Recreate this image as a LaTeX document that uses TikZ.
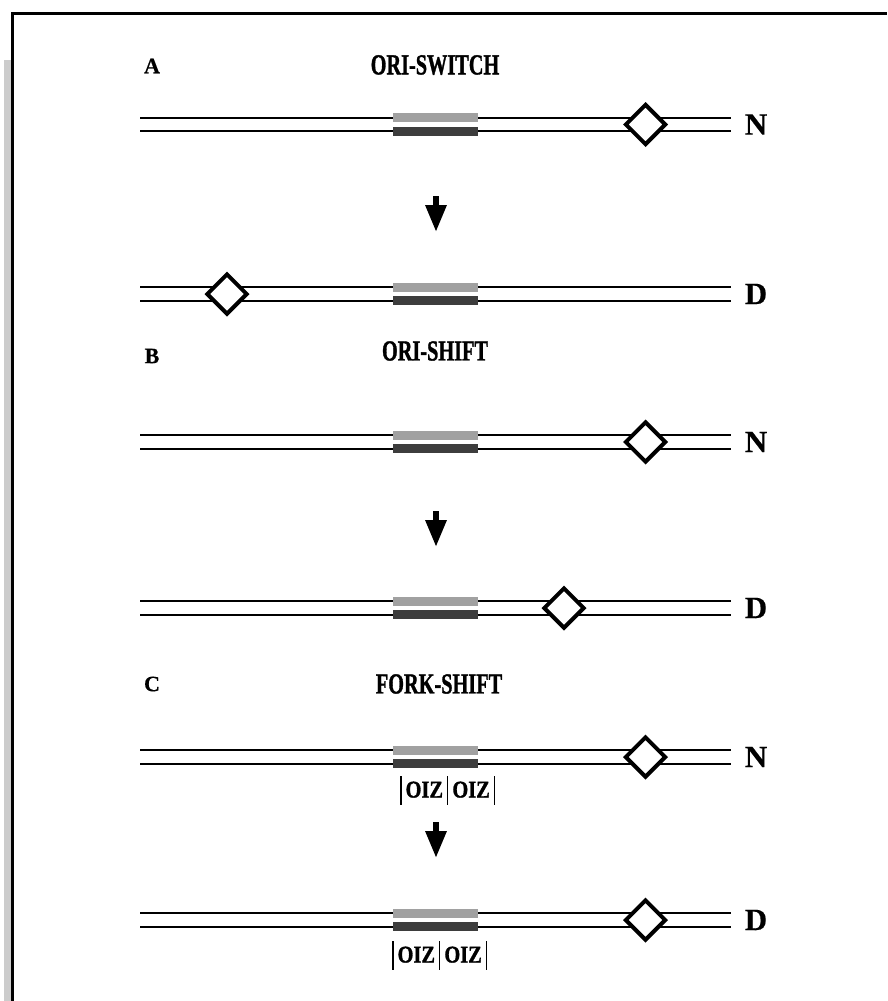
\documentclass[tikz,border=0pt]{standalone}
\usepackage{fontspec}
\usepackage{graphicx}
\setmainfont{Liberation Serif}[FakeBold=0.4]
\newfontfamily\heavyfont{Liberation Serif}[FakeBold=1.4]
\usetikzlibrary{arrows.meta,shapes.geometric}

% one double-stranded stretch: name, centre line y, origin x, end label
\newcommand\dnarow[4]{%
  \coordinate (#1-L) at (140,#2);
  \coordinate (#1-R) at (731,#2);
  \draw[strand] ([yshift=6.75pt]#1-L) -- ([yshift=6.75pt]#1-R);
  \draw[strand] ([yshift=-6.75pt]#1-L) -- ([yshift=-6.75pt]#1-R);
  \node[lightbar] (#1-top) at (435.5,#2-6.75) {};
  \node[darkbar] (#1-bot) at (435.5,#2+6.75) {};
  \node[origin] (#1-ori) at (#3,#2) {};
  \node[endlabel] (#1-lab) at (756,#2) {#4};
}
\newcommand\narrow[1]{\scalebox{0.7}[1]{#1}}
\newcommand\oizsep{\rule[-7pt]{1.4pt}{29pt}}
\newcommand\oiztext{\oizsep\hspace{4pt}\scalebox{0.85}[1]{OIZ}\hspace{4pt}\oizsep\hspace{4pt}\scalebox{0.85}[1]{OIZ}\hspace{4pt}\oizsep}

\begin{document}
\begin{tikzpicture}[x=1pt,y=-1pt,
  strand/.style={line width=2.4pt},
  lightbar/.style={fill=black!37, minimum width=85pt, minimum height=9pt, inner sep=0pt},
  darkbar/.style={fill=black!76, minimum width=85pt, minimum height=9pt, inner sep=0pt},
  origin/.style={diamond, draw, line width=4pt, fill=white, minimum width=41pt, minimum height=41pt, inner sep=0pt},
  endlabel/.style={font=\fontsize{31}{31}\selectfont\bfseries, inner sep=0pt},
  title/.style={font=\fontsize{29}{29}\selectfont\heavyfont\bfseries, inner sep=0pt},
  panel/.style={font=\fontsize{22}{22}\selectfont\bfseries, inner sep=0pt},
  oiz/.style={font=\fontsize{24}{24}\selectfont\heavyfont\bfseries, inner sep=0pt, anchor=west},
  step arrow/.style={line width=6pt, -{Triangle[length=27pt,width=20pt]}}
]
\useasboundingbox (0,0) rectangle (887,1001);

% page frame with grey edge strip
\fill[black!20] (3.5,60) rectangle (11,1001);
\draw[line width=3.5pt] (12.5,1001) -- (12.5,13.5) -- (887,13.5);

% panel A
\node[panel] (pA) at (152,66) {A};
\node[title] (tA) at (435,65) {\narrow{ORI-SWITCH}};
\dnarow{aN}{124.5}{645.5}{N}
\coordinate (aS) at (436,196);
\coordinate (aE) at (436,232);
\draw[step arrow] (aS) -- (aE);
\dnarow{aD}{294}{227}{D}

% panel B
\node[panel] (pB) at (152,356) {B};
\node[title] (tB) at (435,351) {\narrow{ORI-SHIFT}};
\dnarow{bN}{442}{645.5}{N}
\coordinate (bS) at (436,511);
\coordinate (bE) at (436,547);
\draw[step arrow] (bS) -- (bE);
\dnarow{bD}{608}{564}{D}

% panel C
\node[panel] (pC) at (152,684) {C};
\node[title] (tC) at (439,684) {\narrow{FORK-SHIFT}};
\dnarow{cN}{757}{645.5}{N}
\node[oiz] (cNz) at (400,790) {\oiztext};
\coordinate (cS) at (436,822);
\coordinate (cE) at (436,858);
\draw[step arrow] (cS) -- (cE);
\dnarow{cD}{920}{645.5}{D}
\node[oiz] (cDz) at (392,955) {\oiztext};
\end{tikzpicture}
\end{document}
